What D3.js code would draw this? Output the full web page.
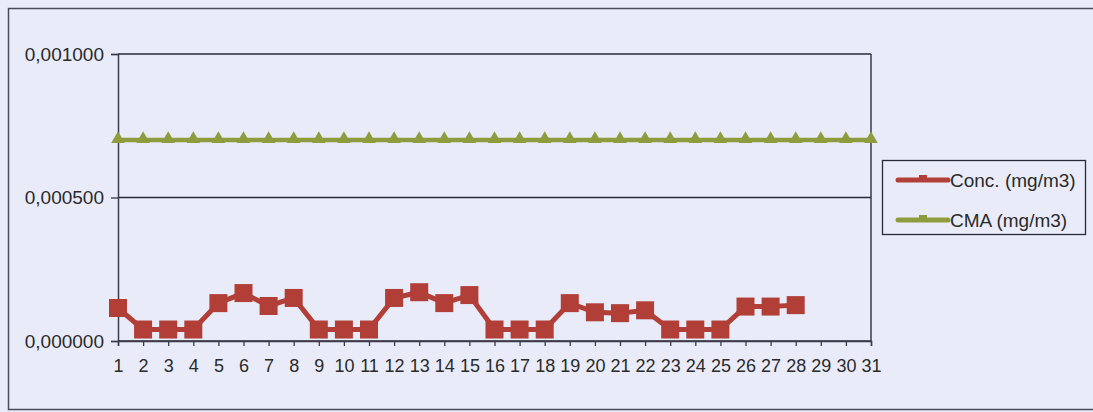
<!DOCTYPE html>
<html>
<head>
<meta charset="utf-8">
<script src="https://cdn.jsdelivr.net/npm/d3@7"></script>
<style>
  body { margin: 0; background: #e9ecf8; overflow: hidden; }
  svg { display: block; font-family: "Liberation Sans", Arial, sans-serif; }
</style>
</head>
<body>
<div id="chart"></div>
<script>
document.addEventListener('DOMContentLoaded', function () {
  var days = d3.range(1, 32);
  var conc = [0.000115, 0.00004, 0.00004, 0.00004, 0.000132, 0.000167, 0.000122, 0.00015,
              0.00004, 0.00004, 0.00004, 0.00015, 0.00017, 0.000132, 0.00016, 0.00004,
              0.00004, 0.00004, 0.000132, 0.0001, 0.000097, 0.000107, 0.00004, 0.00004,
              0.00004, 0.00012, 0.00012, 0.000125, null, null, null];
  var cma = days.map(function () { return 0.0007; });
  var yTicks = [0, 0.0005, 0.001];
  var seriesNames = ["Conc. (mg/m3)", "CMA (mg/m3)"];
  var colors = ["#b13f38", "#8e9c3e"];

  var W = 1093, H = 412;
  var margin = { top: 54, right: 222, bottom: 71, left: 118 };
  var width = W - margin.left - margin.right,
      height = H - margin.top - margin.bottom;

  var svg = d3.select("#chart").append("svg")
      .attr("width", W)
      .attr("height", H);

  // outer chart border: top, left, bottom (right side runs off the picture)
  svg.append("path")
      .attr("d", "M" + W + ",8.5H8.5V409.5H" + W)
      .attr("fill", "none")
      .attr("stroke", "#4a4a58")
      .attr("stroke-width", 1.5);

  var g = svg.append("g")
      .attr("transform", "translate(" + margin.left + "," + margin.top + ")");

  var x = d3.scalePoint().domain(days).range([0, width]);
  var y = d3.scaleLinear().domain([0, 0.001]).range([height, 0]);
  var fmt = function (d) { return d3.format(".6f")(d).replace(".", ","); };

  // gridlines
  g.append("g").selectAll("line")
      .data(yTicks)
      .enter().append("line")
      .attr("x1", 0).attr("x2", width)
      .attr("y1", function (d) { return y(d); })
      .attr("y2", function (d) { return y(d); })
      .attr("stroke", "#2a2a36")
      .attr("stroke-width", 1.3);

  // plot frame right side
  g.append("line")
      .attr("x1", width).attr("x2", width)
      .attr("y1", 0).attr("y2", height)
      .attr("stroke", "#3a3a48").attr("stroke-width", 1.5);

  var yAxis = g.append("g")
      .call(d3.axisLeft(y).tickValues(yTicks).tickFormat(fmt).tickSize(7).tickPadding(7));
  yAxis.select(".domain").attr("stroke", "#3a3a48").attr("stroke-width", 1.5);
  yAxis.selectAll(".tick line").attr("stroke", "#3a3a48").attr("stroke-width", 1.3);
  yAxis.selectAll("text").style("font-size", "19px").attr("fill", "#2a2a2a");

  var xAxis = g.append("g")
      .attr("transform", "translate(0," + height + ")")
      .call(d3.axisBottom(x).tickSize(5).tickPadding(13));
  xAxis.select(".domain").attr("stroke", "#3a3a48").attr("stroke-width", 1.5);
  xAxis.selectAll(".tick line").attr("stroke", "#3a3a48").attr("stroke-width", 1.3);
  xAxis.selectAll("text").style("font-size", "18px").attr("fill", "#2a2a2a");

  var line = d3.line()
      .defined(function (d) { return d.v !== null; })
      .x(function (d) { return x(d.day); })
      .y(function (d) { return y(d.v); });

  var cmaData = days.map(function (d, i) { return { day: d, v: cma[i] }; });
  var concData = days.map(function (d, i) { return { day: d, v: conc[i] }; });

  // CMA series
  g.append("path")
      .datum(cmaData)
      .attr("fill", "none")
      .attr("stroke", colors[1])
      .attr("stroke-width", 4.5)
      .attr("d", line);
  g.append("g").selectAll("path")
      .data(cmaData)
      .enter().append("path")
      .attr("transform", function (d) { return "translate(" + x(d.day) + "," + (y(d.v) - 1) + ")"; })
      .attr("d", d3.symbol().type(d3.symbolTriangle).size(80))
      .attr("fill", colors[1]);

  // Conc series
  g.append("path")
      .datum(concData)
      .attr("fill", "none")
      .attr("stroke", colors[0])
      .attr("stroke-width", 5)
      .attr("d", line);
  g.append("g").selectAll("rect")
      .data(concData.filter(function (d) { return d.v !== null; }))
      .enter().append("rect")
      .attr("x", function (d) { return x(d.day) - 9; })
      .attr("y", function (d) { return y(d.v) - 9; })
      .attr("width", 18).attr("height", 18)
      .attr("fill", colors[0]);

  // legend
  var legend = svg.append("g").attr("transform", "translate(882,160)");
  legend.append("rect")
      .attr("x", 0.5).attr("y", 0.5)
      .attr("width", 203).attr("height", 74)
      .attr("fill", "#e9ecf8")
      .attr("stroke", "#2a2a36").attr("stroke-width", 1.3);
  var item = legend.selectAll(".item")
      .data(seriesNames)
      .enter().append("g")
      .attr("transform", function (d, i) { return "translate(0," + (20 + i * 40) + ")"; });
  item.append("line")
      .attr("x1", 16).attr("x2", 66)
      .attr("stroke", function (d, i) { return colors[i]; })
      .attr("stroke-width", 5)
      .attr("stroke-linecap", "round");
  item.append("rect")
      .attr("x", 37).attr("y", -5).attr("width", 8).attr("height", 4)
      .attr("fill", function (d, i) { return colors[i]; });
  item.append("text")
      .attr("x", 68).attr("dy", "0.35em")
      .style("font-size", "19px").attr("fill", "#2a2a2a")
      .text(function (d) { return d; });
});
</script>
</body>
</html>
